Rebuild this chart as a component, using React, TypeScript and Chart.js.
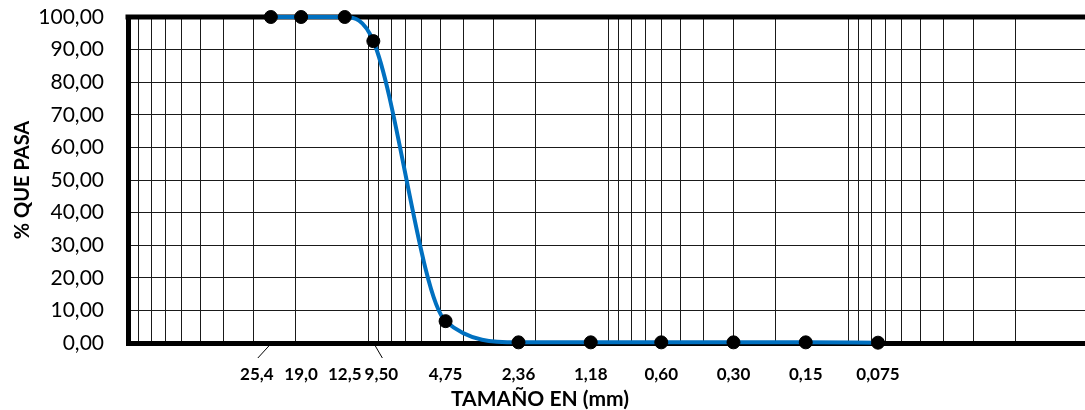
import React, { useEffect, useRef } from "react";
import { Chart, registerables } from "chart.js";

Chart.register(...registerables);

// ---- data ----
const sizesMm: number[] = [25.4, 19.0, 12.5, 9.5, 4.75, 2.36, 1.18, 0.6, 0.3, 0.15, 0.075];
const sizeLabels: string[] = ["25,4", "19,0", "12,5", "9,50", "4,75", "2,36", "1,18", "0,60", "0,30", "0,15", "0,075"];
const percentPassing: number[] = [100, 100, 100, 92.6, 6.7, 0.2, 0.2, 0.2, 0.2, 0.2, 0.1];
const yTickValues: number[] = [0, 10, 20, 30, 40, 50, 60, 70, 80, 90, 100];
const xMinMm = 0.01;
const xMaxMm = 100;
const xTitle = "TAMAÑO EN (mm)";
const yTitle = "% QUE PASA";

// label nudges (style only) to avoid overlap, like Excel data labels with leader lines
const labelShift: number[] = [-14, 0, 0, 8, 0, 0, 0, 0, 0, 0, 0];

const FONT = "Lato, 'Open Sans', sans-serif";

function logGridValues(min: number, max: number): number[] {
  const out: number[] = [];
  const e0 = Math.round(Math.log10(min));
  const e1 = Math.round(Math.log10(max));
  for (let e = e0; e < e1; e++) {
    for (let m = 1; m <= 9; m++) out.push(parseFloat((m * Math.pow(10, e)).toPrecision(3)));
  }
  out.push(max);
  return out;
}

const overlayPlugin = {
  id: "overlay",
  beforeDatasetsDraw(chart: any) {
    const { ctx, chartArea } = chart;
    ctx.save();
    ctx.strokeStyle = "#000";
    ctx.lineWidth = 5;
    ctx.beginPath();
    ctx.moveTo(chartArea.left - 2.5, chartArea.top);
    ctx.lineTo(chartArea.right + 20, chartArea.top);
    ctx.stroke();
    ctx.restore();
  },
  afterDraw(chart: any) {
    const { ctx, chartArea, scales } = chart;
    const xs = scales.x;
    ctx.save();
    ctx.fillStyle = "#000";
    ctx.strokeStyle = "#000";
    // x category labels at the sieve sizes
    ctx.font = `bold 17px ${FONT}`;
    ctx.textAlign = "center";
    ctx.textBaseline = "alphabetic";
    sizesMm.forEach((s, i) => {
      const px = xs.getPixelForValue(s);
      const dx = labelShift[i];
      ctx.fillText(sizeLabels[i], px + dx, chartArea.bottom + 37);
      if (dx !== 0) {
        const sg = Math.sign(dx);
        ctx.lineWidth = 1;
        ctx.beginPath();
        ctx.moveTo(px + 2 * sg, chartArea.bottom + 3);
        ctx.lineTo(px + dx + 1, chartArea.bottom + 15);
        ctx.stroke();
      }
    });
    // x title
    ctx.font = `bold 21px ${FONT}`;
    ctx.fillText(xTitle, 540, 406);
    // y title
    ctx.translate(29, (chartArea.top + chartArea.bottom) / 2);
    ctx.rotate(-Math.PI / 2);
    ctx.font = `bold 20px ${FONT}`;
    ctx.fillText(yTitle, 0, 0);
    ctx.restore();
  },
};

export default function App() {
  const canvasRef = useRef<HTMLCanvasElement | null>(null);

  useEffect(() => {
    document.body.style.margin = "0";
    const canvas = canvasRef.current;
    if (!canvas) return;
    const gridVals = logGridValues(xMinMm, xMaxMm);
    const chart = new Chart(canvas, {
      type: "line",
      data: {
        datasets: [
          {
            data: sizesMm.map((s, i) => ({ x: s, y: percentPassing[i] })),
            borderColor: "#0070C0",
            borderWidth: 4,
            cubicInterpolationMode: "monotone",
            pointRadius: 6.5,
            pointBackgroundColor: "#000",
            pointBorderColor: "#000",
            pointBorderWidth: 1,
            clip: false,
          } as any,
        ],
      },
      options: {
        animation: false,
        responsive: false,
        devicePixelRatio: 1,
        layout: { padding: { top: 17, right: 12, bottom: 0, left: 0 } },
        plugins: { legend: { display: false }, tooltip: { enabled: false }, title: { display: false } },
        scales: {
          x: {
            type: "logarithmic",
            position: "bottom",
            min: xMinMm,
            max: xMaxMm,
            reverse: true,
            ticks: { display: false },
            grid: { color: "#1a1a1a", lineWidth: 1, drawTicks: false },
            border: { display: true, width: 5, color: "#000" },
            afterBuildTicks: (s: any) => {
              s.ticks = gridVals.map((v) => ({ value: v }));
            },
            afterFit: (s: any) => {
              s.height = 67;
              s.paddingLeft = 0;
              s.paddingRight = 0;
              s.paddingTop = 0;
              s.paddingBottom = 0;
            },
          },
          y: {
            type: "linear",
            min: 0,
            max: 100,
            ticks: {
              stepSize: 10,
              color: "#000",
              padding: 24,
              font: { family: FONT, size: 21 },
              callback: (v: any) => Number(v).toFixed(2).replace(".", ","),
            },
            afterBuildTicks: (s: any) => {
              s.ticks = yTickValues.map((v) => ({ value: v }));
            },
            grid: { color: "#1a1a1a", lineWidth: 1, drawTicks: false },
            border: { display: true, width: 5, color: "#000" },
            afterFit: (s: any) => {
              s.width = 128;
              s.paddingLeft = 0;
              s.paddingRight = 0;
              s.paddingTop = 0;
              s.paddingBottom = 0;
            },
          },
        },
      } as any,
      plugins: [overlayPlugin],
    });
    return () => chart.destroy();
  }, []);

  return (
    <div style={{ width: 1085, height: 410, overflow: "hidden" }}>
      <canvas ref={canvasRef} width={1100} height={410} style={{ display: "block" }} />
    </div>
  );
}
